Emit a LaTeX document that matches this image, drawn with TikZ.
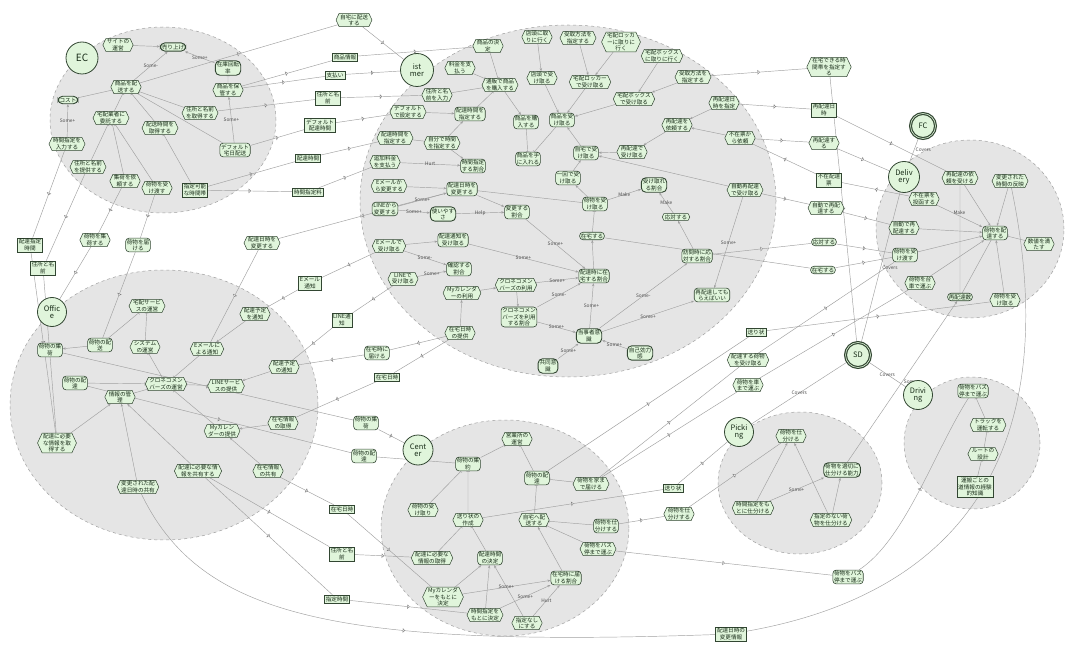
\documentclass[tikz,border=0pt]{standalone}
\usepackage{fontspec}
\setmainfont{Noto Sans CJK JP}
\usetikzlibrary{shapes.symbols, shapes.geometric, arrows.meta, positioning, backgrounds, decorations.markings}
\definecolor{cNode}{RGB}{224,245,219}
\definecolor{cBorder}{RGB}{50,70,50}
\definecolor{cLine}{RGB}{160,160,160}
\definecolor{cActor}{RGB}{229,229,229}
\definecolor{cText}{RGB}{25,45,25}
\newcommand{\nodefont}{\fontsize{5.6}{6.3}\selectfont}
\newcommand{\lblfont}{\fontsize{4.8}{5}\selectfont}
\newcommand{\actfont}{\fontsize{7.5}{7.5}\selectfont}
\tikzset{
	goal/.style   ={rectangle, rounded corners=3.5pt, draw=cBorder, line width=0.6pt, fill=cNode, text=cText, align=center, inner sep=1.2pt, font=\nodefont},
	task/.style   ={signal, signal to=east and west, signal pointer angle=130, draw=cBorder, line width=0.5pt, fill=cNode, text=cText, align=center, inner sep=0.9pt, font=\nodefont},
	soft/.style   ={rectangle, rounded corners=4.5pt, draw=cBorder, line width=0.9pt, fill=cNode, text=cText, align=center, inner sep=1.5pt, font=\nodefont},
	res/.style    ={rectangle, draw=cBorder, line width=0.5pt, fill=cNode, text=cText, align=center, inner sep=1.4pt, font=\nodefont},
	% actors
	actor/.style  ={circle, draw=cBorder, line width=0.8pt, fill=cNode, text=cText, align=center, inner sep=0.5pt, minimum size=29pt, font=\actfont},
	agent/.style  ={circle, draw=cBorder, line width=1.2pt, double=cNode, double distance=0.6pt, fill=cNode, text=cText, inner sep=0.5pt, minimum size=25pt, font=\actfont},
	bound/.style  ={draw=cLine, dashed, fill=cActor, line width=0.5pt},
	% links
	link/.style   ={draw=cLine, line width=0.45pt},
	contrib/.style={link, -{Stealth[length=3pt, width=2.4pt]}},
	decomp/.style ={link, -{Bar[width=3.5pt]}},
	dep/.style    ={link, decoration={markings, mark=at position 0.5 with {\draw[cLine!80!black, fill=white, line width=0.4pt] (-1.2pt,-1.8pt) -- (-1.2pt,1.8pt) arc[start angle=90, end angle=-90, radius=1.8pt] -- cycle;}}, postaction={decorate}},
	lbl/.style    ={font=\lblfont, text=black!70, inner sep=0.5pt},
}

\begin{document}
\begin{tikzpicture}[x=1pt, y=-1pt]
	\useasboundingbox (0,0) rectangle (1066,647);
	\begin{scope}[on background layer]
		\fill[white] (0,0) rectangle (1066,647);
		\draw[bound] (163,120) ellipse [x radius=113pt, y radius=93pt];
		\draw[bound] (568,201) ellipse [x radius=208pt, y radius=176pt];
		\draw[bound] (970,229) ellipse [x radius=94pt, y radius=89pt];
		\draw[bound] (164,405) ellipse [x radius=154pt, y radius=135pt];
		\draw[bound] (505,528) ellipse [x radius=124pt, y radius=108pt];
		\draw[bound] (800,483) ellipse [x radius=82pt, y radius=71pt];
		\draw[bound] (972,443) ellipse [x radius=68pt, y radius=66pt];
	\end{scope}

	% EC
	\node[actor, minimum size=32pt, font=\fontsize{10}{10}\selectfont] (ec) at (82,58) {EC};
	\node[task] (ecSite) at (118,45) {サイトの\\運営};
	\node[soft] (ecSales) at (173,47) {売り上げ};
	\node[soft] (ecStock) at (228,68) {在庫回転\\率};
	\node[task] (ecShip) at (126,87) {商品を配\\送する};
	\node[task] (ecKeep) at (228,90) {商品を保\\管する};
	\node[soft] (ecCost) at (68,100) {コスト};
	\node[task] (ecEntrust) at (111,118) {宅配業者に\\委託する};
	\node[task] (ecGetTime) at (160,128) {配送時間を\\取得する};
	\node[task] (ecGetAddr) at (200,113) {住所と名前\\を取得する};
	\node[task] (ecInTime) at (67,144) {時間指定を\\入力する};
	\node[goal] (ecDefault) at (235,150) {デフォルト\\宅日配送};
	\node[task] (ecGiveAddr) at (88,167) {住所と名前\\を提供する};
	\node[task] (ecPickup) at (125,181) {集荷を依\\頼する};
	\node[task] (ecHand) at (157,188) {荷物を受\\け渡す};
	\node[res] (ecSlots) at (195,190) {指定可能\\な時間帯};

	\node[task] (dHome) at (354,20) {自宅に配送\\する};
	\node[res] (dInfo) at (345,57) {商品情報};
	\node[res] (dPay) at (335,75) {支払い};
	\node[res] (dAddr) at (328,98) {住所と名\\前};
	\node[res] (dDefTime) at (320,125) {デフォルト\\配達時間};
	\node[res] (dTime) at (308,158) {配達時間};
	\node[res] (dFee) at (308,192) {時間指定料};

	% Customer
	\node[actor, minimum size=33pt] (cu) at (417,70) {ist\\mer};
	\node[task] (cuPay) at (460,68) {料金を支\\払う};
	\node[task] (cuDecide) at (488,46) {商品の決\\定};
	\node[task] (cuBuy) at (500,85) {通販で商品\\を購入する};
	\node[task] (cuInAddr) at (437,95) {住所と名\\前を入力};
	\node[task] (cuDefSet) at (408,112) {デフォルト\\で設定する};
	\node[goal] (cuSpec) at (470,114) {配達時間を\\指定する};
	\node[task] (cuSpec2) at (395,138) {配達時間を\\指定する};
	\node[task] (cuSelf) at (442,143) {自分で時間\\を指定する};
	\node[task] (cuExtra) at (385,162) {追加料金\\を支払う};
	\node[goal] (cuRatio) at (473,166) {時間指定\\する割合};
	\node[task] (cuStore) at (537,37) {店頭に取\\りに行く};
	\node[task] (cuHow1) at (578,38) {受取方法を\\指定する};
	\node[task] (cuLocker) at (621,42) {宅配ロッカ\\ーに取りに\\行く};
	\node[task] (cuBox) at (662,56) {宅配ボックス\\に取りに行く};
	\node[task] (cuHow2) at (693,77) {受取方法を\\指定する};
	\node[task] (cuStoreR) at (542,78) {店頭で受\\け取る};
	\node[task] (cuLockerR) at (590,82) {宅配ロッカー\\で受け取る};
	\node[task] (cuBoxR) at (634,99) {宅配ボックス\\で受け取る};
	\node[goal] (cuPurch) at (526,122) {商品を購\\入する};
	\node[goal] (cuRecv) at (562,120) {商品を受\\け取る};
	\node[task] (cuRedo) at (677,125) {再配達を\\依頼する};
	\node[goal] (cuHome) at (586,153) {自宅で受\\け取る};
	\node[task] (cuRedoR) at (632,152) {再配達で\\受け取る};
	\node[goal] (cuGet) at (528,159) {商品を手\\に入れる};
	\node[task] (cuRedoDate) at (724,103) {再配達日\\時を指定};
	\node[task] (cuSlip) at (740,138) {不在票か\\ら依頼};
	\node[task] (cuAutoR) at (745,190) {自動再配達\\で受け取る};
	\node[task] (cuMailCh) at (389,186) {Eメールか\\ら変更する};
	\node[goal] (cuChange) at (462,189) {配達日時を\\変更する};
	\node[goal] (cuLineCh) at (385,209) {LINEから\\変更する};
	\node[soft] (cuEasy) at (443,214) {使いやす\\さ};
	\node[goal] (cuChRatio) at (517,212) {変更する\\割合};
	\node[goal] (cuOnce) at (568,178) {一回で受\\け取る};
	\node[goal] (cuPkg) at (595,204) {荷物を受\\け取る};
	\node[soft] (cuRatioR) at (654,185) {受け取れ\\る割合};
	\node[task] (cuAnswer) at (676,217) {応対する};
	\node[goal] (cuStay) at (592,236) {在宅する};
	\node[task] (cuMailR) at (389,246) {Eメールで\\受け取る};
	\node[goal] (cuNotice) at (453,240) {配達通知を\\受け取る};
	\node[goal] (cuCheck) at (459,269) {確認する\\割合};
	\node[task] (cuLineR) at (403,279) {LINEで\\受け取る};
	\node[goal] (cuStayRatio) at (594,276) {配達時に在\\宅する割合};
	\node[task] (cuKuroUse) at (516,285) {クロネコメン\\バーズの利用};
	\node[task] (cuMyCal) at (462,293) {Myカレンダ\\ーの利用};
	\node[goal] (cuVisit) at (697,256) {訪問時に応\\対する割合};
	\node[goal] (cuRedoOK) at (712,295) {再配達しても\\らえばいい};
	\node[goal] (cuKuroRatio) at (519,317) {クロネコメン\\バーズを利用\\する割合};
	\node[task] (cuProvide) at (460,333) {在宅日時\\の提供};
	\node[soft] (cuOwner) at (589,336) {当事者意\\識};
	\node[soft] (cuEff) at (640,353) {自己効力\\感};
	\node[soft] (cuJoint) at (548,366) {共同意\\識};

	% Delivery
	\node[actor, minimum size=31pt] (dv) at (904,177) {Deliv\\ery};
	\node[agent] (fc) at (923,126) {FC};
	\node[task] (dvReqRedo) at (960,178) {再配達の依\\頼を受ける};
	\node[task] (dvReflect) at (1010,181) {変更された\\時間の反映};
	\node[task] (dvSlip) at (924,199) {不在票を\\投函する};
	\node[task] (dvAuto) at (904,228) {自動で再\\配達する};
	\node[goal] (dvDeliver) at (995,233) {荷物を配\\達する};
	\node[task] (dvMeet) at (1039,244) {数値を満\\たす};
	\node[goal] (dvHand) at (905,255) {荷物を受\\け渡す};
	\node[task] (dvCart) at (920,283) {荷物を台\\車で運ぶ};
	\node[goal] (dvRedoCount) at (960,297) {再配達数};
	\node[task] (dvRecv) at (1005,300) {荷物を受\\け取る};

	\node[task] (dWhen) at (829,67) {在宅できる時\\間帯を指定す\\る};
	\node[res] (dRedoDate) at (824,110) {再配達日\\時};
	\node[task] (dRedo) at (824,143) {再配達す\\る};
	\node[res] (dAbsent) at (829,180) {不在配達\\票};
	\node[task] (dAuto) at (826,208) {自動で再配\\達する};
	\node[goal] (dAnswer) at (824,242) {応対する};
	\node[goal] (dStay) at (823,270) {在宅する};

	% Office
	\node[actor, minimum size=29pt] (of) at (52,312) {Offic\\e};
	\node[res] (dSpecTime) at (30,245) {配達指定\\時間};
	\node[res] (dAddr2) at (43,268) {住所と名\\前};
	\node[task] (dCollect) at (95,240) {荷物を集\\荷する};
	\node[goal] (dDeliver) at (138,245) {荷物を届\\ける};
	\node[task] (dChange) at (262,243) {配達日時を\\変更する};
	\node[res] (dMail) at (310,283) {Eメール\\通知};
	\node[res] (dLine) at (342,320) {LINE通\\知};
	\node[task] (ofService) at (147,306) {宅配サービ\\スの運営};
	\node[task] (ofPlan) at (255,314) {配達予定\\を通知};
	\node[goal] (ofCollect) at (50,350) {荷物の集\\荷};
	\node[goal] (ofShip) at (100,345) {荷物の配\\送};
	\node[task] (ofSys) at (145,347) {システム\\の運営};
	\node[task] (ofMail) at (207,349) {Eメールに\\よる通知};
	\node[task] (ofNotice) at (284,367) {配達予定\\の通知};
	\node[goal] (ofDeliver) at (75,383) {荷物の配\\達};
	\node[task] (ofKuro) at (166,384) {クロネコメン\\バーズの運営};
	\node[task] (ofLine) at (226,386) {LINEサービ\\スの提供};
	\node[task] (ofInfo) at (120,397) {情報の管\\理};
	\node[task] (ofMyCal) at (222,431) {Myカレン\\ダーの提供};
	\node[task] (ofGetStay) at (283,423) {在宅情報\\の取得};
	\node[task] (ofNeed) at (57,443) {配達に必要\\な情報を取\\得する};
	\node[task] (ofShareNeed) at (198,471) {配達に必要な情\\報を共有する};
	\node[task] (ofShareStay) at (268,471) {在宅情報\\の共有};
	\node[task] (ofShareChg) at (138,487) {変更された配\\達日時の共有};

	\node[goal] (dStayDel) at (377,353) {在宅時に\\届ける};
	\node[res] (dStayDate) at (387,377) {在宅日時};
	\node[goal] (dCollect2) at (366,423) {荷物の集\\荷};
	\node[goal] (dDeliver2) at (364,456) {荷物の配\\達};
	\node[res] (dStayDate2) at (342,509) {在宅日時};
	\node[res] (dAddr3) at (342,554) {住所と名\\前};
	\node[res] (dTime2) at (337,599) {指定時間};
	\node[res] (dChgInfo) at (731,634) {配達日時の\\変更情報};

	% Center
	\node[actor, minimum size=30pt] (ce) at (418,450) {Cent\\er};
	\node[task] (ceOffice) at (517,439) {営業所の\\運営};
	\node[goal] (ceGather) at (468,464) {荷物の集\\約};
	\node[goal] (ceDeliver) at (537,478) {荷物の配\\達};
	\node[task] (ceToHome) at (591,484) {荷物を家ま\\で届ける};
	\node[task] (ceRecv) at (423,510) {荷物の受\\け取り};
	\node[task] (ceSlip) at (468,520) {送り状の\\作成};
	\node[task] (ceSend) at (534,520) {自宅へ配\\送する};
	\node[goal] (ceSort) at (606,526) {荷物を仕\\分けする};
	\node[task] (ceBus) at (598,549) {荷物をバス\\停まで運ぶ};
	\node[task] (ceInfo) at (432,558) {配達に必要な\\情報の取得};
	\node[goal] (ceDecide) at (490,558) {配達時間\\の決定};
	\node[goal] (ceRatio) at (566,578) {在宅時に届\\ける割合};
	\node[task] (ceMyCal) at (443,597) {Myカレンダ\\ーをもとに\\決定};
	\node[task] (ceByTime) at (485,615) {時間指定を\\もとに決定};
	\node[task] (ceNone) at (527,623) {指定なし\\にする};

	\node[res] (dSlip) at (756,332) {送り状};
	\node[task] (dRecvPkg) at (748,360) {配達する荷物\\を受け取る};
	\node[task] (dCart) at (748,385) {荷物を車\\まで運ぶ};
	\node[res] (dSlip2) at (673,488) {送り状};
	\node[task] (dSort) at (679,514) {荷物を仕\\分けする};
	\node[goal] (dBus) at (848,577) {荷物をバス\\停まで運ぶ};

	% Picking, Driving
	\node[agent] (sd) at (858,355) {SD};
	\node[actor] (pk) at (739,432) {Picki\\ng};
	\node[task] (pkSort) at (791,436) {荷物を仕\\分ける};
	\node[soft] (pkAbility) at (842,470) {荷物を適切に\\仕分ける能力};
	\node[task] (pkByTime) at (753,508) {時間指定をも\\とに仕分ける};
	\node[task] (pkNone) at (831,520) {指定のない荷\\物を仕分ける};
	\node[actor] (dr) at (918,395) {Drivi\\ng};
	\node[goal] (drBus) at (973,391) {荷物をバス\\停まで運ぶ};
	\node[task] (drTruck) at (988,425) {トラックを\\運転する};
	\node[task] (drRoute) at (983,454) {ルートの\\設計};
	\node[res] (drKnow) at (975,487) {運搬ごとの\\道情報の経験\\的知識};

	\begin{scope}[on background layer]
		% EC
		\draw[contrib] (ecSite) -- (ecSales);
		\draw[contrib] (ecShip) -- node[lbl]{Some-} (ecSales);
		\draw[contrib] (ecStock) -- node[lbl]{Some+} (ecSales);
		\draw[decomp] (ecKeep) -- (ecStock);
		\draw[contrib] (ecInTime) -- node[lbl]{Some+} (ecCost);
		\draw[decomp] (ecEntrust) -- (ecShip);
		\draw[decomp] (ecGetTime) -- (ecShip);
		\draw[decomp] (ecGetAddr) -- (ecShip);
		\draw[contrib] (ecDefault) -- node[lbl]{Some+} (ecKeep);
		\draw[decomp] (ecGiveAddr) -- (ecEntrust);
		\draw[decomp] (ecPickup) -- (ecEntrust);
		\draw[decomp] (ecHand) -- (ecEntrust);
		\draw[decomp] (ecSlots) -- (ecGetTime);
		\draw[link] (ecShip) -- (ecDefault);
		\draw[link] (ecCost) -- (ecShip);
		\draw[dep] (ecShip) -- (dHome);
		\draw[dep] (dHome) -- (cu);
		\draw[dep] (ecKeep) -- (dInfo);
		\draw[dep] (dInfo) -- (cuDecide);
		\draw[dep] (ecKeep) -- (dPay);
		\draw[dep] (dPay) -- (cu);
		\draw[dep] (ecGetAddr) -- (dAddr);
		\draw[dep] (dAddr) -- (cuInAddr);
		\draw[dep] (ecDefault) -- (dDefTime);
		\draw[dep] (dDefTime) -- (cuDefSet);
		\draw[dep] (ecSlots) -- (dTime);
		\draw[dep] (dTime) -- (cuSpec2);
		\draw[dep] (ecSlots) -- (dFee);
		\draw[dep] (dFee) -- (cuExtra);
		% Customer
		\draw[decomp] (cuPay) -- (cuBuy);
		\draw[decomp] (cuDecide) -- (cuBuy);
		\draw[decomp] (cuInAddr) -- (cuBuy);
		\draw[decomp] (cuSpec) -- (cuBuy);
		\draw[contrib] (cuBuy) -- (cuPurch);
		\draw[contrib] (cuDefSet) -- (cuSpec);
		\draw[contrib] (cuSelf) -- (cuSpec);
		\draw[link] (cuSpec2) -- (cuSelf);
		\draw[contrib] (cuSelf) -- (cuRatio);
		\draw[contrib] (cuExtra) -- node[lbl]{Hurt} (cuRatio);
		\draw[contrib] (cuStore) -- (cuStoreR);
		\draw[contrib] (cuHow1) -- (cuLockerR);
		\draw[contrib] (cuLocker) -- (cuLockerR);
		\draw[contrib] (cuBox) -- (cuBoxR);
		\draw[contrib] (cuHow2) -- (cuBoxR);
		\draw[contrib] (cuStoreR) -- (cuRecv);
		\draw[contrib] (cuLockerR) -- (cuRecv);
		\draw[contrib] (cuBoxR) -- (cuRecv);
		\draw[contrib] (cuHome) -- (cuRecv);
		\draw[contrib] (cuRedoR) -- (cuHome);
		\draw[contrib] (cuRedo) -- (cuRedoR);
		\draw[decomp] (cuPurch) -- (cuGet);
		\draw[decomp] (cuRecv) -- (cuGet);
		\draw[contrib] (cuRedoDate) -- (cuRedo);
		\draw[contrib] (cuSlip) -- (cuRedo);
		\draw[contrib] (cuAutoR) -- (cuHome);
		\draw[contrib] (cuPkg) -- (cuOnce);
		\draw[contrib] (cuOnce) -- (cuHome);
		\draw[decomp] (cuStay) -- (cuPkg);
		\draw[contrib] (cuPkg) -- node[lbl]{Make} (cuRatioR);
		\draw[contrib] (cuAnswer) -- node[lbl]{Make} (cuRatioR);
		\draw[contrib] (cuMailCh) -- (cuChange);
		\draw[contrib] (cuLineCh) -- node[lbl]{Some+} (cuChange);
		\draw[contrib] (cuLineCh) -- node[lbl]{Some+} (cuEasy);
		\draw[contrib] (cuEasy) -- node[lbl]{Help} (cuChRatio);
		\draw[contrib] (cuChange) -- (cuChRatio);
		\draw[link] (cuChange) -- (cuPkg);
		\draw[contrib] (cuChRatio) -- node[lbl]{Some+} (cuStayRatio);
		\draw[contrib] (cuMailR) -- node[lbl]{Some-} (cuCheck);
		\draw[contrib] (cuMailR) -- (cuNotice);
		\draw[contrib] (cuLineR) -- node[lbl]{Some+} (cuCheck);
		\draw[contrib] (cuNotice) -- node[lbl]{Some+} (cuStayRatio);
		\draw[contrib] (cuKuroUse) -- node[lbl]{Some+} (cuStayRatio);
		\draw[contrib] (cuKuroRatio) -- node[lbl]{Some-} (cuStayRatio);
		\draw[contrib] (cuMyCal) -- (cuKuroUse);
		\draw[contrib] (cuKuroUse) -- (cuKuroRatio);
		\draw[contrib] (cuProvide) -- (cuMyCal);
		\draw[contrib] (cuKuroRatio) -- node[lbl]{Some+} (cuOwner);
		\draw[contrib] (cuJoint) -- node[lbl]{Some+} (cuOwner);
		\draw[contrib] (cuEff) -- node[lbl]{Some+} (cuOwner);
		\draw[contrib] (cuOwner) -- node[lbl]{Some+} (cuStayRatio);
		\draw[contrib] (cuOwner) -- node[lbl]{Some-} (cuVisit);
		\draw[contrib] (cuOwner) -- node[lbl]{Some+} (cuRedoOK);
		\draw[contrib] (cuStayRatio) -- (cuStay);
		\draw[contrib] (cuVisit) -- (cuAnswer);
		\draw[contrib] (cuAutoR) -- node[lbl]{Some+} (cuRedoOK);
		% Customer - Delivery
		\draw[dep] (cuHow2) -- (dWhen);
		\draw[dep] (dWhen) -- (sd);
		\draw[dep] (cuRedoDate) -- (dRedoDate);
		\draw[dep] (dRedoDate) -- (dvReqRedo);
		\draw[dep] (cuSlip) -- (dRedo);
		\draw[dep] (dRedo) -- (dv);
		\draw[dep] (dvSlip) -- (dAbsent);
		\draw[dep] (dAbsent) -- (cuSlip);
		\draw[dep] (cuAutoR) -- (dAuto);
		\draw[dep] (dAuto) -- (dvAuto);
		\draw[dep] (cuVisit) -- (dAnswer);
		\draw[dep] (dAnswer) -- (dvHand);
		\draw[dep] (cuStay) -- (dStay);
		\draw[dep] (dStay) -- (dvHand);
		% Delivery
		\draw[link] (fc) -- node[lbl, right=1pt]{Covers} (dv);
		\draw[contrib] (dvReqRedo) -- (dvDeliver);
		\draw[contrib] (dvReflect) -- (dvDeliver);
		\draw[contrib] (dvSlip) -- node[lbl, above=1pt]{Make} (dvDeliver);
		\draw[contrib] (dvAuto) -- (dvDeliver);
		\draw[contrib] (dvHand) -- (dvDeliver);
		\draw[contrib] (dvCart) -- (dvDeliver);
		\draw[contrib] (dvRecv) -- (dvDeliver);
		\draw[decomp] (dvMeet) -- (dvDeliver);
		\draw[link] (dvReqRedo) -- (dvRedoCount);
		\draw[link] (dvRedoCount) -- (dvDeliver);
		% Office
		\draw[decomp] (ofShip) -- (ofService);
		\draw[decomp] (ofSys) -- (ofService);
		\draw[contrib] (ofShip) -- (ofCollect);
		\draw[decomp] (ofDeliver) -- (ofKuro);
		\draw[decomp] (ofKuro) -- (ofSys);
		\draw[decomp] (ofMail) -- (ofKuro);
		\draw[decomp] (ofLine) -- (ofKuro);
		\draw[decomp] (ofInfo) -- (ofKuro);
		\draw[decomp] (ofMyCal) -- (ofKuro);
		\draw[contrib] (ofNotice) -- (ofLine);
		\draw[contrib] (ofPlan) -- (ofMail);
		\draw[contrib] (ofGetStay) -- (ofMyCal);
		\draw[contrib] (ofNeed) -- (ofInfo);
		\draw[contrib] (ofShareNeed) -- (ofInfo);
		\draw[contrib] (ofShareStay) -- (ofMyCal);
		\draw[contrib] (ofShareChg) -- (ofInfo);
		\draw[dep] (ecInTime) -- (dSpecTime);
		\draw[dep] (dSpecTime) -- (ofNeed);
		\draw[dep] (ecGiveAddr) -- (dAddr2);
		\draw[dep] (dAddr2) -- (ofNeed);
		\draw[dep] (ecPickup) -- (dCollect);
		\draw[dep] (dCollect) -- (of);
		\draw[dep] (ecHand) -- (dDeliver);
		\draw[dep] (dDeliver) -- (ofShip);
		\draw[dep] (cuChange) -- (dChange);
		\draw[dep] (dChange) -- (ofMail);
		\draw[dep] (cuMailR) -- (dMail);
		\draw[dep] (dMail) -- (ofPlan);
		\draw[dep] (cuLineR) -- (dLine);
		\draw[dep] (dLine) -- (ofNotice);
		\draw[dep] (cuProvide) -- (dStayDel);
		\draw[dep] (dStayDel) -- (ofNotice);
		\draw[dep] (cuProvide) -- (dStayDate);
		\draw[dep] (dStayDate) -- (ofGetStay);
		\draw[dep] (ofCollect) -- (dCollect2);
		\draw[dep] (dCollect2) -- (ce);
		\draw[dep] (ofDeliver) -- (dDeliver2);
		\draw[dep] (dDeliver2) -- (ceGather);
		\draw[dep] (ofShareStay) -- (dStayDate2);
		\draw[dep] (dStayDate2) -- (ceMyCal);
		\draw[dep] (ofShareNeed) -- (dAddr3);
		\draw[dep] (dAddr3) -- (ceInfo);
		\draw[dep] (ofShareNeed) -- (dTime2);
		\draw[dep] (dTime2) -- (ceByTime);
		\draw[dep] (ofShareChg) .. controls (200,615) and (330,648) .. (dChgInfo);
		\draw[dep] (dChgInfo) .. controls (980,590) and (1062,430) .. (dvReflect);
		% Center
		\draw[decomp] (ceGather) -- (ceOffice);
		\draw[decomp] (ceDeliver) -- (ceOffice);
		\draw[decomp] (ceRecv) -- (ceGather);
		\draw[decomp] (ceSlip) -- (ceGather);
		\draw[decomp] (ceSend) -- (ceDeliver);
		\draw[decomp] (ceToHome) -- (ceDeliver);
		\draw[decomp] (ceSort) -- (ceSend);
		\draw[decomp] (ceBus) -- (ceSend);
		\draw[decomp] (ceInfo) -- (ceSlip);
		\draw[decomp] (ceDecide) -- (ceSlip);
		\draw[contrib] (ceMyCal) -- (ceDecide);
		\draw[contrib] (ceByTime) -- (ceDecide);
		\draw[contrib] (ceNone) -- (ceDecide);
		\draw[contrib] (ceMyCal) -- node[lbl]{Some+} (ceRatio);
		\draw[contrib] (ceByTime) -- node[lbl]{Some+} (ceRatio);
		\draw[contrib] (ceNone) -- node[lbl]{Hurt} (ceRatio);
		\draw[contrib] (ceRatio) -- (ceSend);
		\draw[dep] (ceSlip) -- (dSlip2);
		\draw[dep] (dSlip2) -- (pk);
		\draw[dep] (ceSort) -- (dSort);
		\draw[dep] (dSort) -- (pkSort);
		\draw[dep] (ceBus) -- (dBus);
		\draw[dep] (dBus) .. controls (905,540) and (935,450) .. (drBus);
		\draw[dep] (ceDeliver) -- (dSlip);
		\draw[dep] (dSlip) -- (dvRecv);
		\draw[dep] (ceToHome) -- (dRecvPkg);
		\draw[dep] (dRecvPkg) -- (dvHand);
		\draw[dep] (ceToHome) -- (dCart);
		\draw[dep] (dCart) -- (dvCart);
		% Picking, Driving
		\draw[link] (sd) -- node[lbl]{Covers} (pk);
		\draw[link] (sd) -- node[lbl]{Covers} (dr);
		\draw[link] (sd) -- node[lbl, right=1pt]{Covers} (dv);
		\draw[contrib] (pkByTime) -- (pkSort);
		\draw[contrib] (pkNone) -- (pkSort);
		\draw[contrib] (pkByTime) -- node[lbl]{Some+} (pkAbility);
		\draw[contrib] (pkNone) -- (pkAbility);
		\draw[contrib] (pkAbility) -- node[lbl, right=1pt]{Some-} (dvRedoCount);
		\draw[decomp] (drTruck) -- (drBus);
		\draw[decomp] (drRoute) -- (drTruck);
		\draw[decomp] (drKnow) -- (drRoute);
	\end{scope}
\end{tikzpicture}
\end{document}
